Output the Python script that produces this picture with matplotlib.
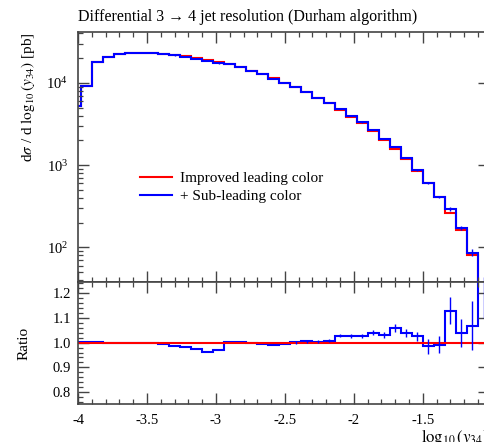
import matplotlib

matplotlib.use("Agg")
import matplotlib.pyplot as plt  # noqa: E402
import numpy as np  # noqa: E402
from matplotlib.ticker import MultipleLocator, LogLocator, NullFormatter  # noqa: E402

plt.rcParams["font.family"] = ["Liberation Serif", "DejaVu Serif"]
plt.rcParams["mathtext.fontset"] = "stix"
plt.rcParams["axes.unicode_minus"] = False

RED = "#ff0000"
BLUE = "#0000ff"
FRAME = "#444444"

# bin edges in log10(y34), bin width 0.08
EDGES = [
    -4.06, -3.98, -3.90, -3.82, -3.74, -3.66, -3.58, -3.50, -3.42, -3.34,
    -3.26, -3.18, -3.10, -3.02, -2.94, -2.86, -2.78, -2.70, -2.62, -2.54,
    -2.46, -2.38, -2.30, -2.22, -2.14, -2.06, -1.98, -1.90, -1.82, -1.74,
    -1.66, -1.58, -1.50, -1.42, -1.34, -1.26, -1.18, -1.10, -1.02,
]

# "Improved leading color" cross section [pb]
LEADING = [
    5250, 9200, 18200, 20700, 22500, 23300, 23400, 23300, 22700, 21900,
    21100, 20100, 19200, 17800, 16900, 15500, 14100, 12800, 11400, 10100,
    8940, 7760, 6620, 5660, 4700, 3890, 3240, 2610, 2030, 1580,
    1190, 853, 610, 412, 263, 164, 81, 28,
]

# "+ Sub-leading color" divided by "Improved leading color"
RATIO = [
    1.004, 1.004, 1.002, 1.000, 1.000, 1.000, 1.000, 1.000, 0.995, 0.987,
    0.981, 0.973, 0.961, 0.971, 1.004, 1.003, 0.999, 0.995, 0.992, 0.993,
    1.001, 1.005, 1.004, 1.008, 1.028, 1.028, 1.026, 1.039, 1.032, 1.059,
    1.039, 1.026, 0.985, 0.992, 1.129, 1.039, 1.069, 1.30,
]

# relative statistical uncertainty of the sub-leading sample
RATIO_ERR = [
    0.003, 0.003, 0.003, 0.003, 0.003, 0.003, 0.003, 0.003, 0.003, 0.003,
    0.003, 0.003, 0.003, 0.003, 0.003, 0.003, 0.003, 0.003, 0.003, 0.003,
    0.005, 0.005, 0.006, 0.006, 0.007, 0.008, 0.009, 0.010, 0.012, 0.016,
    0.015, 0.018, 0.030, 0.035, 0.055, 0.055, 0.100, 0.200,
]

edges = np.array(EDGES)
lead = np.array(LEADING, dtype=float)
ratio = np.array(RATIO)
rerr = np.array(RATIO_ERR)
sub = lead * ratio
centres = 0.5 * (edges[:-1] + edges[1:])


def _frame(ax):
    for sp in ax.spines.values():
        sp.set_color(FRAME)
        sp.set_linewidth(1.2)
    ax.tick_params(which="both", direction="in", top=True, right=True,
                   color=FRAME, labelsize=10.5)
    ax.tick_params(which="major", length=8, width=1.0)
    ax.tick_params(which="minor", length=3.5, width=0.9)
    ax.xaxis.set_major_locator(MultipleLocator(0.5))
    ax.xaxis.set_minor_locator(MultipleLocator(0.1))
    ax.set_xlim(-4.0, -1.02)


fig = plt.figure(figsize=(4.84, 4.42), dpi=100)
ax = fig.add_axes([0.1612, 0.362, 0.8492, 0.5656])
ar = fig.add_axes([0.1612, 0.086, 0.8492, 0.276])

# main panel
ax.stairs(lead, edges, baseline=None, color=RED, linewidth=1.5,
          label="Improved leading color")
ax.stairs(sub, edges, baseline=None, color=BLUE, linewidth=1.5,
          label="+ Sub-leading color")
ax.errorbar(centres, sub, yerr=sub * rerr, fmt="none", ecolor=BLUE,
            elinewidth=1.0)
ax.set_yscale("log")
ax.set_ylim(38, 41700)
_frame(ax)
ax.yaxis.set_major_locator(LogLocator(base=10))
ax.yaxis.set_minor_locator(LogLocator(base=10, subs=np.arange(2, 10)))
ax.yaxis.set_minor_formatter(NullFormatter())
ax.tick_params(axis="y", pad=7)
ax.tick_params(axis="x", labelbottom=False)
ax.set_title("Differential 3 → 4 jet resolution (Durham algorithm)",
             loc="left", fontsize=11.5, pad=8)
ax.set_ylabel(r"d$\sigma$ / d $\log_{10}(y_{34})$ [pb]", fontsize=11,
              ha="right")
ax.yaxis.set_label_coords(-0.10, 1.0)
ax.legend(loc="upper left", bbox_to_anchor=(0.118, 0.498), frameon=False,
          fontsize=11, handlelength=2.1, handletextpad=0.5, labelspacing=0.3)

# ratio panel
ar.axhline(1.0, color=RED, linewidth=1.5)
ar.stairs(ratio, edges, baseline=None, color=BLUE, linewidth=1.5)
ar.errorbar(centres[20:], ratio[20:], yerr=rerr[20:], fmt="none",
            ecolor=BLUE, elinewidth=1.0)
ar.set_ylim(0.752, 1.245)
_frame(ar)
ar.yaxis.set_major_locator(MultipleLocator(0.1))
ar.yaxis.set_minor_locator(MultipleLocator(0.02))
ar.yaxis.set_major_formatter(lambda v, _: f"{v:.1f}")
ar.xaxis.set_major_formatter(lambda v, _: f"{v:g}")
ar.tick_params(axis="x", pad=7)
ar.tick_params(axis="y", pad=5)
ar.set_ylabel("Ratio", fontsize=11)
ar.yaxis.set_label_coords(-0.115, 0.5)
ar.text(1.0, -0.19, r"$\log_{10}(y_{34})$", transform=ar.transAxes,
        ha="right", va="top", fontsize=12)

fig.savefig("out.png", dpi=100)
